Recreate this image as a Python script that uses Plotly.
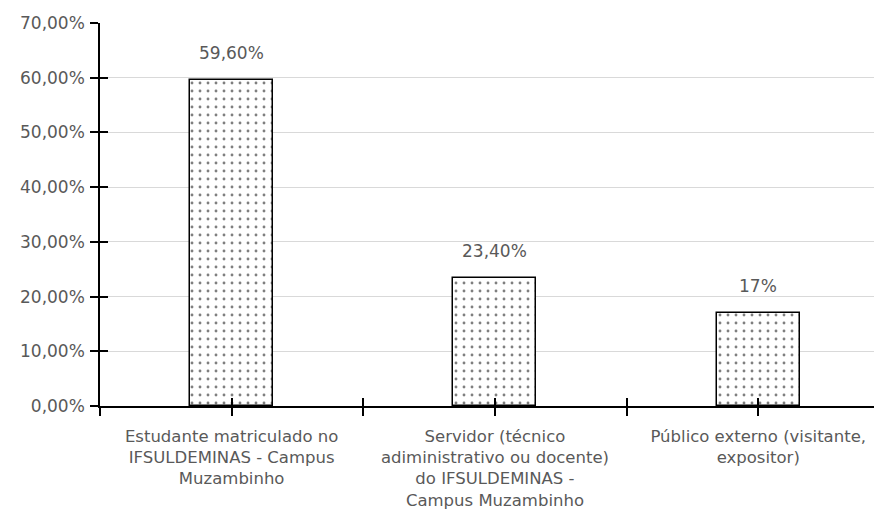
import plotly.graph_objects as go

categories = [
    "Estudante matriculado no<br>IFSULDEMINAS - Campus<br>Muzambinho",
    "Servidor (técnico<br>adiministrativo ou docente)<br>do IFSULDEMINAS -<br>Campus Muzambinho",
    "Público externo (visitante,<br>expositor)",
]
values = [59.6, 23.4, 17.0]
value_labels = ["59,60%", "23,40%", "17%"]
y_ticks = [0, 10, 20, 30, 40, 50, 60, 70]
y_tick_labels = ["0,00%", "10,00%", "20,00%", "30,00%", "40,00%", "50,00%", "60,00%", "70,00%"]

FONT = "DejaVu Sans"
GRAY = "#595959"
xpos = list(range(len(categories)))

fig = go.Figure()
fig.add_trace(go.Bar(
    x=xpos, y=values, width=0.315,
    marker=dict(
        color="white",
        line=dict(color="black", width=1.5),
        pattern=dict(shape=".", fgcolor="black", bgcolor="white", size=8, solidity=0.1),
    ),
    hoverinfo="skip",
))
# invisible trace on the overlay axes (for inner half of crossing ticks)
fig.add_trace(go.Scatter(x=[xpos[0]], y=[values[0]], xaxis="x2", yaxis="y2",
                         mode="markers", marker=dict(opacity=0), hoverinfo="skip"))

# x ticks at centers and boundaries
tickvals = []
ticktext = []
for i, c in enumerate(categories):
    tickvals += [i - 0.5, i]
    ticktext += ["", c]
tickvals.append(len(categories) - 0.5)
ticktext.append("")

annotations = [
    dict(x=i, y=v, xref="x", yref="y", text=t, showarrow=False,
         yshift=27, font=dict(family=FONT, size=17, color=GRAY))
    for i, (v, t) in enumerate(zip(values, value_labels))
]

XR = [-0.5, 2.47]
fig.update_layout(
    width=874, height=519,
    margin=dict(l=92, r=0, t=15, b=121),
    paper_bgcolor="white", plot_bgcolor="white",
    showlegend=False,
    font=dict(family=FONT, size=17, color=GRAY),
    annotations=annotations,
    xaxis=dict(
        range=XR, automargin=False,
        tickmode="array", tickvals=tickvals, ticktext=ticktext,
        ticks="outside", ticklen=8, tickcolor="black", tickwidth=1.5,
        showline=True, linecolor="black", linewidth=1.5,
        showgrid=False, zeroline=False,
        tickfont=dict(family=FONT, size=16.5, color=GRAY),
        ticklabelstandoff=6,
    ),
    xaxis2=dict(
        range=XR, overlaying="x", automargin=False,
        tickmode="array", tickvals=tickvals, ticktext=[""] * len(tickvals),
        ticks="inside", ticklen=8, tickcolor="black", tickwidth=1.5,
        showline=False, showgrid=False, zeroline=False, showticklabels=False,
        side="bottom",
    ),
    yaxis=dict(
        range=[0, 70], automargin=False,
        tickmode="array", tickvals=y_ticks, ticktext=y_tick_labels,
        ticks="outside", ticklen=8, tickcolor="black", tickwidth=1.5,
        showline=True, linecolor="black", linewidth=1.5,
        showgrid=True, gridcolor="#d9d9d9", gridwidth=1,
        zeroline=False,
        tickfont=dict(family=FONT, size=17, color=GRAY),
        ticklabelstandoff=2,
    ),
    yaxis2=dict(
        range=[0, 70], overlaying="y", automargin=False,
        tickmode="array", tickvals=y_ticks, ticktext=[""] * len(y_ticks),
        ticks="inside", ticklen=8, tickcolor="black", tickwidth=1.5,
        showline=False, showgrid=False, zeroline=False, showticklabels=False,
        side="left",
    ),
    bargap=0,
)

fig.write_html("out.html")
